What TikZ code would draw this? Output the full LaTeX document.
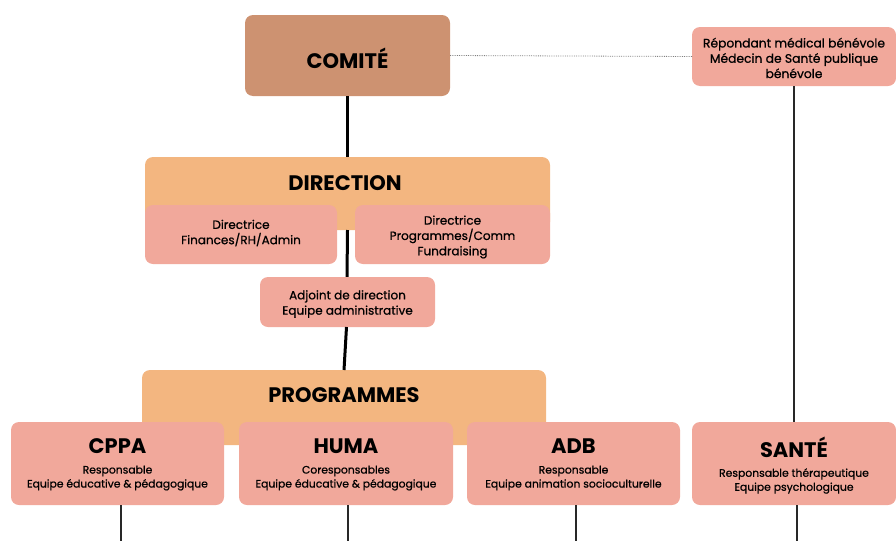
\documentclass[tikz,border=0pt]{standalone}
\usepackage{fontspec}
\setmainfont{Poppins}
\newfontfamily\medfont{Poppins}[FakeBold=0.8]
\definecolor{comitec}{RGB}{205,146,113}
\definecolor{orangec}{RGB}{243,182,128}
\definecolor{pinkc}{RGB}{241,168,155}
\definecolor{linec}{RGB}{40,40,40}
\begin{document}
\begin{tikzpicture}[x=1pt,y=-1pt,
  box/.style={draw=none,rounded corners=8pt,inner sep=0pt,outer sep=0pt},
  title/.style={font=\fontsize{21}{23}\selectfont\bfseries,inner sep=0pt},
  mid/.style={font=\medfont\fontsize{12}{15.3}\selectfont,align=center,inner sep=0pt},
  small/.style={font=\medfont\fontsize{10.8}{14}\selectfont,align=center,inner sep=0pt},
  thick line/.style={line width=3pt,black},
  thin line/.style={line width=1.1pt,linec}]
\useasboundingbox (0,0) rectangle (896,541);
% big boxes
\node[box,fill=comitec,minimum width=205pt,minimum height=81pt] (comite) at (347.5,55.5) {};
\node[title] at (347.5,58) {COMITÉ};
\node[box,fill=pinkc,minimum width=204pt,minimum height=59pt] (repond) at (794,56.5) {};
\node[mid,font=\medfont\fontsize{12.3}{15.3}\selectfont] at (794,58) {Répondant médical bénévole\\Médecin de Santé publique\\bénévole};
\node[box,fill=orangec,minimum width=405pt,minimum height=73pt] (direction) at (347.5,193.5) {};
\node[box,fill=orangec,minimum width=404pt,minimum height=75pt] (programmes) at (344,407.5) {};
% connectors
\draw[densely dotted,line width=0.8pt,gray] (comite.east) -- (repond.west);
\draw[thick line] (comite.south) -- (direction.north);
\draw[thick line] (direction.south) -- (347,277);
\node[title] at (345,183) {DIRECTION};
\node[title] at (344,395) {PROGRAMMES};
% sub boxes
\node[box,fill=pinkc,minimum width=192pt,minimum height=59pt] (dirfin) at (241,234.5) {};
\node[mid] at (241,233) {Directrice\\Finances/RH/Admin};
\node[box,fill=pinkc,minimum width=195pt,minimum height=59pt] (dirprog) at (452.5,234.5) {};
\node[mid] at (452.5,237) {Directrice\\Programmes/Comm\\Fundraising};
\node[box,fill=pinkc,minimum width=175pt,minimum height=50pt] (adjoint) at (347.5,302) {};
\node[mid] at (347.5,304) {Adjoint de direction\\Equipe administrative};
\draw[thick line] ([xshift=-1pt]adjoint.south) -- (programmes.north);
\node[box,fill=pinkc,minimum width=213pt,minimum height=83pt] (cppa) at (117.5,463.5) {};
\node[title] at (117.5,446) {CPPA};
\node[small] at (117.5,478) {Responsable\\Equipe éducative \& pédagogique};
\node[box,fill=pinkc,minimum width=214pt,minimum height=83pt] (huma) at (346,463.5) {};
\node[title] at (346,446) {HUMA};
\node[small] at (346,478) {Coresponsables\\Equipe éducative \& pédagogique};
\node[box,fill=pinkc,minimum width=213pt,minimum height=83pt] (adb) at (573.5,463.5) {};
\node[title] at (573.5,446) {ADB};
\node[small] at (573.5,478) {Responsable\\Equipe animation socioculturelle};
\node[box,fill=pinkc,minimum width=204pt,minimum height=83pt] (sante) at (794,463.5) {};
\node[title] at (794,447) {SANTÉ};
\node[small] at (794,481) {Responsable thérapeutique\\Equipe psychologique};
\draw[thin line] (repond.south) -- (sante.north);
\coordinate (e1) at (121,541);
\coordinate (e2) at (348,541);
\coordinate (e3) at (576,541);
\coordinate (e4) at (797,541);
\draw[thin line] (cppa.south -| e1) -- (e1);
\draw[thin line] (huma.south -| e2) -- (e2);
\draw[thin line] (adb.south -| e3) -- (e3);
\draw[thin line] (sante.south -| e4) -- (e4);
\end{tikzpicture}
\end{document}
